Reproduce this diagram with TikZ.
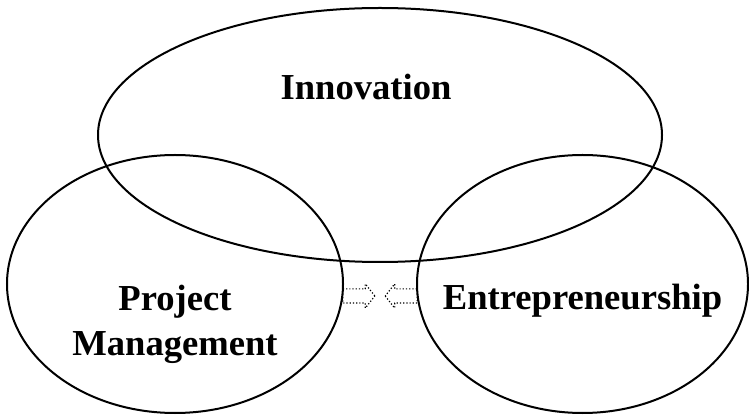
\documentclass[tikz,border=0pt]{standalone}
\usepackage{fontspec}
\setmainfont{Liberation Serif}
\usetikzlibrary{shapes,
                shapes.geometric,
                shapes.arrows,
                positioning}
\tikzset{field/.style =
   {ellipse,
    draw,
    line width=2pt,
    inner sep=0pt}}
\tikzset{field-name/.style =
   {font=\fontsize{36.6}{45}\selectfont\bfseries,
    align=center,
    inner sep=0pt}}
\tikzset{link/.style =
   {single arrow,
    draw,
    dotted,
    line width=1.2pt,
    inner sep=0pt,
    inner ysep=6.5pt,
    minimum width=0pt,
    minimum height=32pt,
    single arrow head extend=5pt,
    single arrow tip angle=104}}

\begin{document}
\begin{tikzpicture}[x=1pt, y=1pt]

        \useasboundingbox (0,0) rectangle (749,415);

        \node [field,
               minimum width=564pt,
               minimum height=254pt] (innov) at (380,280) {};

        \node [field,
               minimum width=336pt,
               minimum height=258pt] (pm) at (175,131) {};

        \node [field,
               minimum width=331pt,
               minimum height=258pt] (entre) at (582.5,131) {};

        \node [field-name, anchor=base] (innov-name) at (366,315) {Innovation};

        \node [field-name] (pm-name) at (175,91) {Project\\Management};

        \node [field-name, anchor=base] (entre-name) at (582.5,105) {Entrepreneurship};

        \node [link] (pm-link) at (356,119) {};

        \node [link,
               shape border rotate=180] (entre-link) at (404,119) {};

    \end{tikzpicture}
\end{document}
